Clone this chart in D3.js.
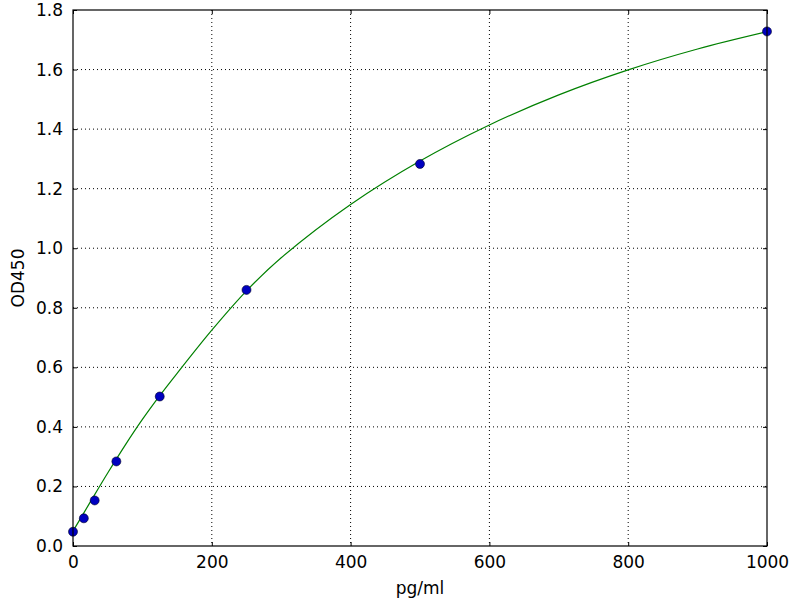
<!DOCTYPE html>
<html><head><meta charset="utf-8">
<script src="https://cdn.jsdelivr.net/npm/d3@7"></script>
<style>body{margin:0;background:#fff}svg{display:block}text{font-family:"DejaVu Sans",sans-serif}</style>
</head><body><svg id="c" width="800" height="600"></svg>
<script>
const concentrations = [0, 15.6, 31.25, 62.5, 125, 250, 500, 1000];
const odValues = [0.048, 0.093, 0.153, 0.284, 0.502, 0.860, 1.283, 1.728];
const fitX = [0, 25, 50, 75, 100, 125, 150, 200, 250, 300, 400, 500, 600, 700, 800, 900, 1000];
const fitY = [0.05, 0.148, 0.245, 0.338, 0.425, 0.505, 0.58, 0.725, 0.857, 0.968, 1.147, 1.293, 1.414, 1.515, 1.599, 1.669, 1.727];
const xTicks = [0, 200, 400, 600, 800, 1000];
const yTicks = [0.0, 0.2, 0.4, 0.6, 0.8, 1.0, 1.2, 1.4, 1.6, 1.8];
const xLabel = "pg/ml", yLabel = "OD450";

const svg = d3.select("#c");
const L = 73, R = 767, T = 10, B = 546;
const x = d3.scaleLinear().domain([0, 1000]).range([L, R]);
const y = d3.scaleLinear().domain([0, 1.8]).range([B, T]);

// grid
const g = svg.append("g");
g.selectAll("line.vx").data(xTicks.slice(1, -1)).join("line")
  .attr("x1", d => x(d)).attr("x2", d => x(d)).attr("y1", T).attr("y2", B)
  .attr("stroke", "#000").attr("stroke-width", 1).attr("stroke-dasharray", "1,3");
g.selectAll("line.hy").data(yTicks.slice(1, -1)).join("line")
  .attr("y1", d => y(d)).attr("y2", d => y(d)).attr("x1", L).attr("x2", R)
  .attr("stroke", "#000").attr("stroke-width", 1).attr("stroke-dasharray", "1,3");

// fit line
const pts = fitX.map((d, i) => [d, fitY[i]]);
svg.append("path").datum(pts)
  .attr("d", d3.line().x(d => x(d[0])).y(d => y(d[1])).curve(d3.curveCatmullRom.alpha(0.5)))
  .attr("fill", "none").attr("stroke", "#008000").attr("stroke-width", 1.2);

// points
svg.append("g").selectAll("circle").data(concentrations).join("circle")
  .attr("cx", d => x(d)).attr("cy", (d, i) => y(odValues[i])).attr("r", 4.5)
  .attr("fill", "#0000c0").attr("stroke", "#000022").attr("stroke-width", 0.6);

// axes (ticks inward on all sides)
const fmtY = d3.format(".1f");
const ax = svg.append("g").attr("transform", `translate(0,${B})`)
  .call(d3.axisBottom(x).tickValues(xTicks).tickSizeInner(-4).tickSizeOuter(0).tickPadding(10).tickFormat(d3.format("d")));
const axT = svg.append("g").attr("transform", `translate(0,${T})`)
  .call(d3.axisTop(x).tickValues(xTicks).tickSizeInner(-4).tickSizeOuter(0).tickFormat(""));
const ay = svg.append("g").attr("transform", `translate(${L},0)`)
  .call(d3.axisLeft(y).tickValues(yTicks).tickSizeInner(-4).tickSizeOuter(0).tickPadding(10).tickFormat(fmtY));
const ayR = svg.append("g").attr("transform", `translate(${R},0)`)
  .call(d3.axisRight(y).tickValues(yTicks).tickSizeInner(-4).tickSizeOuter(0).tickFormat(""));
[ax, axT, ay, ayR].forEach(a => {
  a.select(".domain").remove();
  a.selectAll("text").attr("font-size", 17).attr("fill", "#000").attr("font-family", "DejaVu Sans");
  a.selectAll("line").attr("stroke", "#000");
});
svg.append("rect").attr("x", L).attr("y", T).attr("width", R - L).attr("height", B - T)
  .attr("fill", "none").attr("stroke", "#000").attr("stroke-width", 1.2);

svg.append("text").attr("x", (L + R) / 2).attr("y", 594).attr("text-anchor", "middle")
  .attr("font-size", 17).text(xLabel);
svg.append("text").attr("transform", `translate(24,${(T + B) / 2}) rotate(-90)`)
  .attr("text-anchor", "middle").attr("font-size", 17).text(yLabel);
</script></body></html>
